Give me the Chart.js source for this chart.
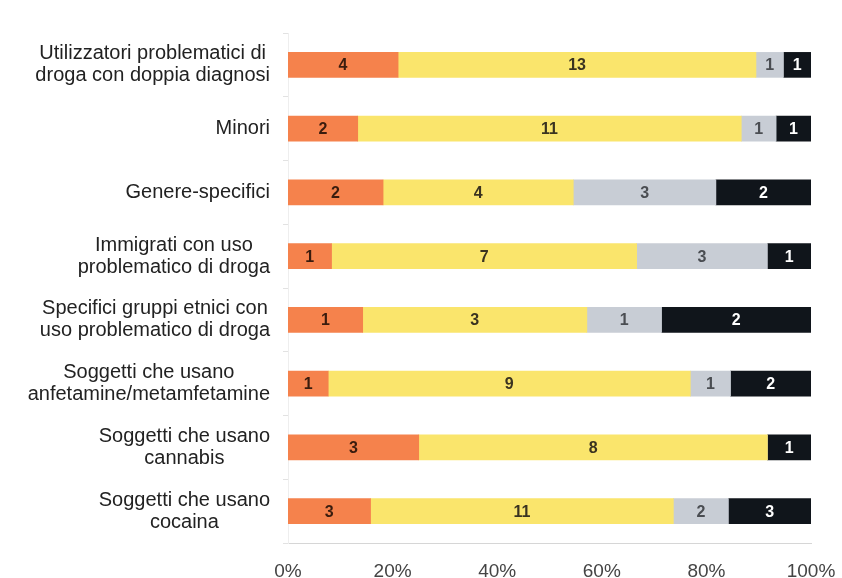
<!DOCTYPE html>
<html>
<head>
<meta charset="utf-8">
<script src="https://cdn.jsdelivr.net/npm/chart.js@4"></script>
<style>
  html, body { margin: 0; padding: 0; background: #ffffff; }
  #wrap { width: 842px; height: 578px; }
</style>
</head>
<body>
<div id="wrap"><canvas id="chart" width="842" height="578"></canvas></div>
<script>
// categorie (righe, dall'alto in basso)
const categories = [
  ["Utilizzatori problematici di", "droga con doppia diagnosi"],
  ["Minori"],
  ["Genere-specifici"],
  ["Immigrati con uso", "problematico di droga"],
  ["Specifici gruppi etnici con", "uso problematico di droga"],
  ["Soggetti che usano", "anfetamine/metamfetamine"],
  ["Soggetti che usano", "cannabis"],
  ["Soggetti che usano", "cocaina"]
];

const orangeCounts = [4, 2, 2, 1, 1, 1, 3, 3];
const yellowCounts = [13, 11, 4, 7, 3, 9, 8, 11];
const greyCounts   = [1, 1, 3, 3, 1, 1, 0, 2];
const blackCounts  = [1, 1, 2, 1, 2, 2, 1, 3];

const xTicks = [0, 20, 40, 60, 80, 100];

const totals = categories.map((_, i) => orangeCounts[i] + yellowCounts[i] + greyCounts[i] + blackCounts[i]);
const share = arr => arr.map((v, i) => v / totals[i] * 100);

const series = [
  { counts: orangeCounts, bg: "#F5824C", txt: "#3a1c0e" },
  { counts: yellowCounts, bg: "#FAE56C", txt: "#3a3320" },
  { counts: greyCounts,   bg: "#C8CDD5", txt: "#4a4d52" },
  { counts: blackCounts,  bg: "#10151B", txt: "#ffffff" }
];

const FONT = "'Liberation Sans', Arial, sans-serif";

// numeri dentro le barre
const barLabels = {
  id: "barLabels",
  afterDatasetsDraw(chart) {
    const ctx = chart.ctx;
    ctx.save();
    ctx.font = "bold 16px " + FONT;
    ctx.textAlign = "center";
    ctx.textBaseline = "middle";
    chart.data.datasets.forEach((ds, di) => {
      chart.getDatasetMeta(di).data.forEach((bar, i) => {
        const c = series[di].counts[i];
        if (!c) return;
        ctx.fillStyle = series[di].txt;
        ctx.fillText(String(c), (bar.base + bar.x) / 2, bar.y + 1);
      });
    });
    ctx.restore();
  }
};

// etichette dell'asse y: blocco allineato a destra, righe centrate
const yLabels = {
  id: "yLabels",
  afterDraw(chart) {
    const ctx = chart.ctx;
    const y = chart.scales.y;
    ctx.save();
    ctx.font = "20px " + FONT;
    ctx.fillStyle = "#222";
    ctx.textAlign = "center";
    ctx.textBaseline = "middle";
    const right = 270, lh = 22;
    categories.forEach((lines, i) => {
      const w = Math.max(...lines.map(l => ctx.measureText(l).width));
      const cx = right - w / 2;
      const cy = y.getPixelForValue(i);
      lines.forEach((l, k) => {
        ctx.fillText(l, cx, cy + (k - (lines.length - 1) / 2) * lh);
      });
    });
    ctx.restore();
  }
};

new Chart(document.getElementById("chart"), {
  type: "bar",
  data: {
    labels: categories,
    datasets: series.map(s => ({
      data: share(s.counts),
      backgroundColor: s.bg,
      borderWidth: 0,
      barThickness: 25
    }))
  },
  options: {
    indexAxis: "y",
    responsive: false,
    animation: false,
    layout: { padding: { top: 33, right: 31, left: 0, bottom: 0 } },
    plugins: { legend: { display: false }, tooltip: { enabled: false } },
    scales: {
      x: {
        stacked: true,
        min: 0,
        max: 100,
        afterBuildTicks: s => { s.ticks = xTicks.map(v => ({ value: v })); },
        afterFit: s => { s.height = 35; s.paddingLeft = 0; s.paddingRight = 0; },
        grid: { display: false, drawTicks: false },
        border: { display: true, color: "#d6d6d6" },
        ticks: {
          padding: 17,
          color: "#444",
          font: { family: FONT, size: 19 },
          callback: v => v + "%"
        }
      },
      y: {
        stacked: true,
        afterFit: s => { s.width = 288; },
        grid: { display: true, drawOnChartArea: false, tickLength: 5, color: "#e2e2e2" },
        border: { display: true, color: "#eeeeee" },
        ticks: { display: false }
      }
    }
  },
  plugins: [barLabels, yLabels]
});
</script>
</body>
</html>
